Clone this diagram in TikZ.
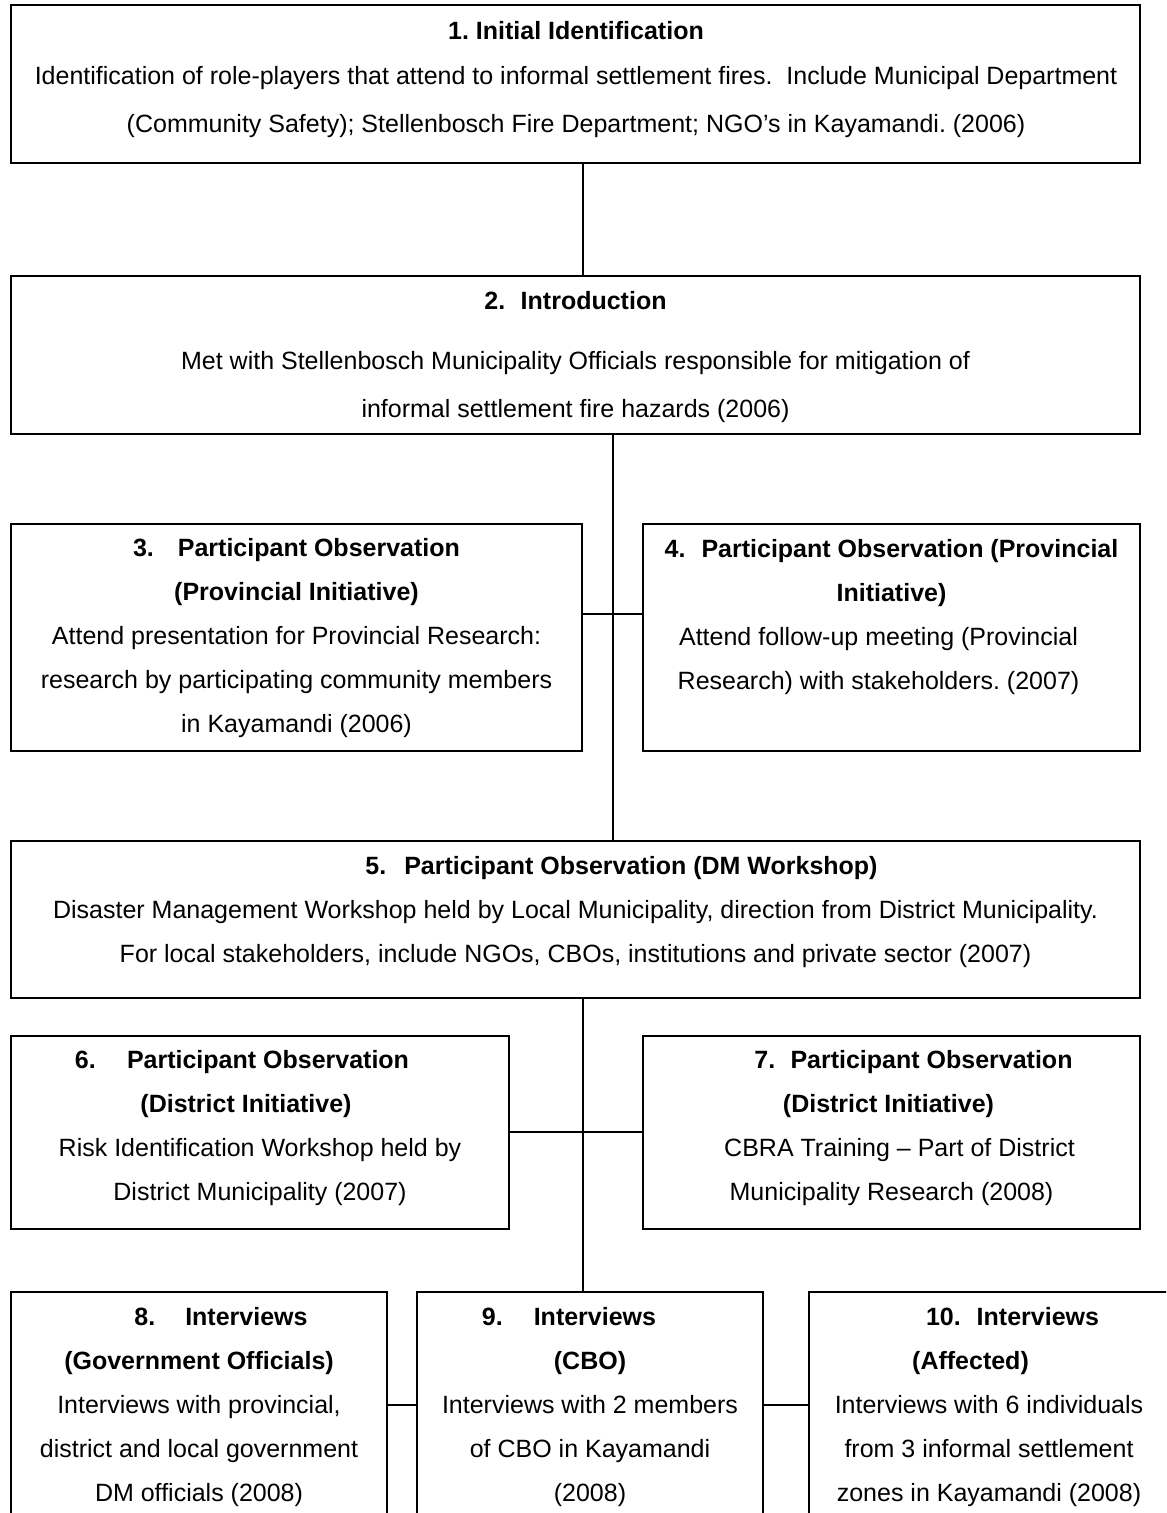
\documentclass[tikz,border=0pt]{standalone}
\usepackage{fontspec}
\setmainfont{Liberation Sans}
\usetikzlibrary{fit}
\newcommand\pad[1]{\rule{#1}{0pt}}
\begin{document}
\frenchspacing
\begin{tikzpicture}[x=0.5pt,y=-0.5pt,
  box/.style={draw, line width=1pt, inner sep=0pt},
  txt/.style={align=center, font=\fontsize{12.5}{22}\selectfont\frenchspacing, inner sep=0pt},
  conn/.style={line width=1pt}]
\useasboundingbox (0,0) rectangle (1166,1513);
\clip (0,0) rectangle (1166,1513);
% helper coordinates for connector positions
\coordinate (s1) at (583,0);
\coordinate (s2) at (613,0);
\coordinate (h1) at (0,614);
\coordinate (h2) at (0,1132);
\coordinate (h3) at (0,1405);
% boxes
\node[box, fit={(11,5) (1140,163)}] (b1) {};
\node[box, fit={(11,276) (1140,434)}] (b2) {};
\node[box, fit={(11,524) (582,751)}] (b3) {};
\node[box, fit={(643,524) (1140,751)}] (b4) {};
\node[box, fit={(11,841) (1140,998)}] (b5) {};
\node[box, fit={(11,1036) (509,1229)}] (b6) {};
\node[box, fit={(643,1036) (1140,1229)}] (b7) {};
\node[box, fit={(11,1292) (387,1540)}] (b8) {};
\node[box, fit={(417,1292) (763,1540)}] (b9) {};
\node[box, fit={(809,1292) (1200,1540)}] (b10) {};
% texts
\node[txt] (t1) at (576,80) {\textbf{1. Initial Identification}\\[0.5pt]
Identification of role-players that attend to informal settlement fires.\ \ Include Municipal Department\\[2pt]
(Community Safety); Stellenbosch Fire Department; NGO’s in Kayamandi. (2006)};
\node[txt] (t2) at (575.5,357.5) {\textbf{2.\hspace{7.7pt}Introduction}\\[8pt]
Met with Stellenbosch Municipality Officials responsible for mitigation of\\[2pt]
informal settlement fire hazards (2006)};
\node[txt] (t3) at (296.5,638.5) {\textbf{3.\hspace{12pt}Participant Observation}\\
\textbf{(Provincial Initiative)}\\
Attend presentation for Provincial Research:\\
research by participating community members\\
in Kayamandi (2006)};
\node[txt] (t4) at (891.5,617) {\textbf{4.\hspace{8pt}Participant Observation (Provincial}\\
\textbf{Initiative)}\\
Attend follow-up meeting (Provincial\pad{13pt}\\
Research) with stakeholders. (2007)\pad{13pt}};
\node[txt] (t5) at (575.5,912) {\pad{46pt}\textbf{5.\hspace{9pt}Participant Observation (DM Workshop)}\\
Disaster Management Workshop held by Local Municipality, direction from District Municipality.\\
For local stakeholders, include NGOs, CBOs, institutions and private sector (2007)};
\node[txt] (t6) at (260,1128.5) {\textbf{6.\hspace{15.6pt}Participant Observation}\pad{18pt}\\
\textbf{(District Initiative)}\pad{14pt}\\
Risk Identification Workshop held by\\
District Municipality (2007)};
\node[txt] (t7) at (891.5,1128.5) {\pad{22pt}\textbf{7.\hspace{7.6pt}Participant Observation}\\
\textbf{(District Initiative)}\pad{3pt}\\
\pad{8pt}CBRA Training -- Part of District\\
Municipality Research (2008)};
\node[txt] (t8) at (199,1407.5) {\pad{22pt}\textbf{8.\hspace{15pt}Interviews}\\
\textbf{(Government Officials)}\\
Interviews with provincial,\\
district and local government\\
DM officials (2008)};
\node[txt] (t9) at (590,1407.5) {\textbf{9.\hspace{15.5pt}Interviews}\pad{21pt}\\
\textbf{(CBO)}\\
Interviews with 2 members\\
of CBO in Kayamandi\\
(2008)};
\node[txt] (t10) at (989,1407.5) {\pad{23.5pt}\textbf{10.\hspace{8pt}Interviews}\\
\textbf{(Affected)}\pad{18.5pt}\\
Interviews with 6 individuals\\
from 3 informal settlement\\
zones in Kayamandi (2008)};
% connectors
\draw[conn] (b1.south -| s1) -- (b2.north -| s1);
\draw[conn] (b2.south -| s2) -- (b5.north -| s2);
\draw[conn] (b3.east |- h1) -- (b4.west |- h1);
\draw[conn] (b5.south -| s1) -- (b9.north -| s1);
\draw[conn] (b6.east |- h2) -- (b7.west |- h2);
\draw[conn] (b8.east |- h3) -- (b9.west |- h3);
\draw[conn] (b9.east |- h3) -- (b10.west |- h3);
\end{tikzpicture}
\end{document}
